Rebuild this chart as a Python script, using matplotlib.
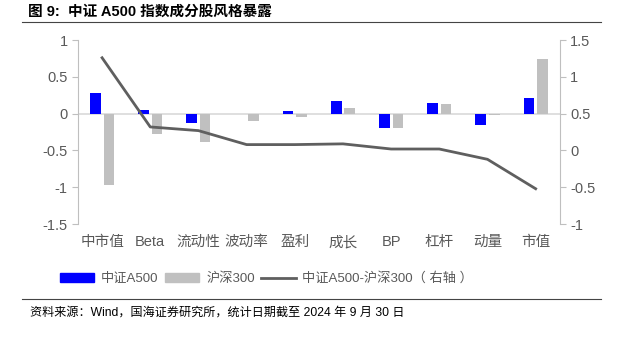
import matplotlib
matplotlib.use("Agg")
import matplotlib.pyplot as plt
import numpy as np
from matplotlib.patches import Patch
from matplotlib.lines import Line2D

plt.rcParams['font.family'] = ['Liberation Sans', 'Noto Sans CJK SC', 'DejaVu Sans']

categories = ['中市值', 'Beta', '流动性', '波动率', '盈利', '成长', 'BP', '杠杆', '动量', '市值']
a500 = [0.28, 0.05, -0.13, -0.01, 0.04, 0.17, -0.19, 0.14, -0.16, 0.22]
hs300 = [-0.97, -0.28, -0.39, -0.10, -0.04, 0.08, -0.20, 0.13, -0.02, 0.75]
diff = [1.26, 0.32, 0.27, 0.08, 0.08, 0.09, 0.02, 0.02, -0.12, -0.52]
left_ticks = [1, 0.5, 0, -0.5, -1, -1.5]
right_ticks = [1.5, 1, 0.5, 0, -0.5, -1]

BLUE = '#0000ff'
GRAY = '#c0c0c0'
LINE = '#5f5f5f'
TXT = '#595959'
SP = '#bfbfbf'

fig = plt.figure(figsize=(6.2, 3.4), dpi=100)
ax = fig.add_axes([0.1258, 0.341, 0.777, 0.541])
x = np.arange(len(categories))
w = 0.22
ax.bar(x - 0.14, a500, w, color=BLUE, zorder=3)
ax.bar(x + 0.14, hs300, w, color=GRAY, zorder=3)
ax.set_xlim(-0.5, len(categories) - 0.5)
ax.set_ylim(-1.5, 1)
ax.set_yticks(left_ticks)
ax.set_yticklabels(['1', '0.5', '0', '-0.5', '-1', '-1.5'])
ax.axhline(0, color='#d9d9d9', lw=1.2, zorder=2)
ax.set_xticks(x)
ax.set_xticklabels(categories)
ax.tick_params(axis='x', length=0, pad=8, labelsize=10.5, colors=TXT)
ax.tick_params(axis='y', length=4, color=SP, labelsize=10.5, colors=TXT, direction='out')
for s in ['top', 'bottom', 'right']:
    ax.spines[s].set_visible(False)
ax.spines['left'].set_color(SP)

ax2 = ax.twinx()
ax2.plot(x, diff, color=LINE, lw=2, zorder=4)
ax2.set_ylim(-1, 1.5)
ax2.set_yticks(right_ticks)
ax2.set_yticklabels(['1.5', '1', '0.5', '0', '-0.5', '-1'])
ax2.tick_params(axis='y', length=4, color=SP, labelsize=10.5, colors=TXT, direction='out')
for s in ['top', 'bottom', 'left']:
    ax2.spines[s].set_visible(False)
ax2.spines['right'].set_color(SP)

handles = [Patch(color=BLUE), Patch(color=GRAY), Line2D([0], [0], color=LINE, lw=2)]
labels = ['中证A500', '沪深300', '中证A500-沪深300（ 右轴 ）']
fig.legend(handles, labels, loc='center', bbox_to_anchor=(0.43, 0.18), ncol=3, frameon=False,
           fontsize=9.5, labelcolor=TXT, handlelength=2.6, handleheight=0.65, columnspacing=0.5,
           handletextpad=0.5)

fig.text(0.045, 0.965, '图 9:  中证 A500 指数成分股风格暴露', fontsize=10.5, fontweight='bold',
         va='center', ha='left', color='black')
fig.add_artist(Line2D([0.035, 0.97], [0.935, 0.935], color='#444444', lw=0.8))
fig.add_artist(Line2D([0.035, 0.97], [0.12, 0.12], color='#444444', lw=0.8))
fig.text(0.048, 0.08, '资料来源：Wind，国海证券研究所，统计日期截至 2024 年 9 月 30 日', fontsize=8.7,
         va='center', ha='left', color='black')

fig.savefig('out.png', dpi=100)
